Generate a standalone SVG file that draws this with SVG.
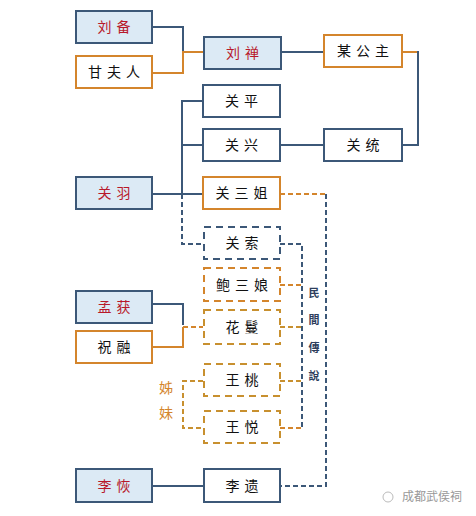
<svg xmlns="http://www.w3.org/2000/svg" width="476" height="516" viewBox="0 0 476 516">
<style>
.b{fill:#fff;stroke:#3C5878;stroke-width:2}
.f{fill:#DCEAF5;stroke:#3C5878;stroke-width:2}
.o{fill:#fff;stroke:#D4852C;stroke-width:2}
.bd{fill:#fff;stroke:#3C5878;stroke-width:2;stroke-dasharray:7 5}
.od{fill:#fff;stroke:#D4852C;stroke-width:2;stroke-dasharray:7 5}
.gd{fill:#fff;stroke:#C8902F;stroke-width:2;stroke-dasharray:7 5}
text{font-family:"Noto Sans CJK SC","Noto Sans",sans-serif;font-size:14px;letter-spacing:5px;text-anchor:middle;fill:#111}
.r{fill:#B8192A}
.v{font-size:11px;letter-spacing:0;font-weight:bold;fill:#2E3E5C}
.lb{fill:none;stroke:#3C5878;stroke-width:2}
.lo{fill:none;stroke:#D4852C;stroke-width:2}
.lbd{fill:none;stroke:#3C5878;stroke-width:2;stroke-dasharray:5 3}
.lod{fill:none;stroke:#D4852C;stroke-width:2;stroke-dasharray:5 3}
.lgd{fill:none;stroke:#C8902F;stroke-width:2;stroke-dasharray:5 3}
</style>
<g id="connectors">
<polyline class="lb" points="152,27 183,27 183,52"/>
<polyline class="lo" points="152,73 183,73 183,52 204,52"/>
<line class="lb" x1="281" y1="52" x2="324" y2="52"/>
<polyline class="lo" points="402,52 418,52"/>
<polyline class="lb" points="418,51 418,145 402,145"/>
<line class="lb" x1="280" y1="145" x2="324" y2="145"/>
<polyline class="lb" points="203,101 182,101 182,194"/>
<line class="lb" x1="182" y1="145" x2="203" y2="145"/>
<line class="lb" x1="152" y1="194" x2="203" y2="194"/>
<polyline class="lbd" points="182,194 182,244 203,244"/>
<polyline class="lod" points="280,194 326,194"/>
<polyline class="lbd" points="326,194 326,486 280,486"/>
<polyline class="lbd" points="280,244 302,244 302,428"/>
<line class="lod" x1="280" y1="285" x2="302" y2="285"/>
<line class="lgd" x1="280" y1="327" x2="302" y2="327"/>
<line class="lgd" x1="280" y1="381" x2="302" y2="381"/>
<line class="lod" x1="280" y1="428" x2="302" y2="428"/>
<polyline class="lb" points="152,304 183,304 183,325"/>
<polyline class="lo" points="152,347 183,347 183,327"/>
<line class="lod" x1="183" y1="327" x2="203" y2="327"/>
<polyline class="lgd" points="203,381 183,381 183,428 203,428"/>
<line class="lb" x1="152" y1="486" x2="204" y2="486"/>
</g>
<g id="liubei"><rect class="f" x="76" y="11" width="76" height="32"/><text class="r" x="116.5" y="32">刘备</text></g>
<g id="ganfuren"><rect class="o" x="76" y="56" width="76" height="32"/><text x="116.5" y="77">甘夫人</text></g>
<g id="liushan"><rect class="f" x="204" y="37" width="77" height="32"/><text class="r" x="245" y="58">刘禅</text></g>
<g id="mougongzhu"><rect class="o" x="324" y="35" width="78" height="32"/><text x="365.5" y="56">某公主</text></g>
<g id="guanping"><rect class="b" x="203" y="85" width="77" height="32"/><text x="244" y="106">关平</text></g>
<g id="guanxing"><rect class="b" x="203" y="129" width="77" height="32"/><text x="244" y="150">关兴</text></g>
<g id="guantong"><rect class="b" x="324" y="129" width="78" height="32"/><text x="365.5" y="150">关统</text></g>
<g id="guanyu"><rect class="f" x="76" y="177" width="76" height="32"/><text class="r" x="116.5" y="198">关羽</text></g>
<g id="guansanjie"><rect class="o" x="203" y="177" width="77" height="32"/><text x="244" y="198">关三姐</text></g>
<g id="guansuo"><rect class="bd" x="204" y="227" width="76" height="32"/><text x="244.5" y="248">关索</text></g>
<g id="baosanniang"><rect class="od" x="204" y="268" width="76" height="33"/><text x="244.5" y="290">鲍三娘</text></g>
<g id="menghuo"><rect class="f" x="76" y="291" width="76" height="32"/><text class="r" x="116.5" y="312">孟获</text></g>
<g id="huaman"><rect class="gd" x="204" y="310" width="76" height="34"/><text x="244.5" y="332">花鬘</text></g>
<g id="zhurong"><rect class="o" x="76" y="331" width="76" height="32"/><text x="116.5" y="352">祝融</text></g>
<g id="wangtao"><rect class="gd" x="204" y="364" width="76" height="32"/><text x="244.5" y="385">王桃</text></g>
<g id="wangyue"><rect class="gd" x="204" y="411" width="76" height="32"/><text x="244.5" y="432">王悦</text></g>
<g id="lihui"><rect class="f" x="76" y="469" width="76" height="33"/><text class="r" x="116.5" y="491">李恢</text></g>
<g id="liyi"><rect class="b" x="204" y="469" width="76" height="33"/><text x="244.5" y="491">李遗</text></g>
<g id="zimei"><text x="166" y="393" style="fill:#D4852C;letter-spacing:0">姊</text><text x="166" y="418" style="fill:#D4852C;letter-spacing:0">妹</text></g>
<g id="minjian">
<text class="v" x="314" y="297">民</text>
<text class="v" x="314" y="324">間</text>
<text class="v" x="314" y="352">傳</text>
<text class="v" x="314" y="380">說</text>
</g>
<g id="watermark">
<circle cx="388" cy="497" r="5" fill="none" stroke="#bbb" stroke-width="1"/>
<text x="432" y="501" style="font-size:12px;letter-spacing:0;fill:#999">成都武侯祠</text>
</g>
</svg>
